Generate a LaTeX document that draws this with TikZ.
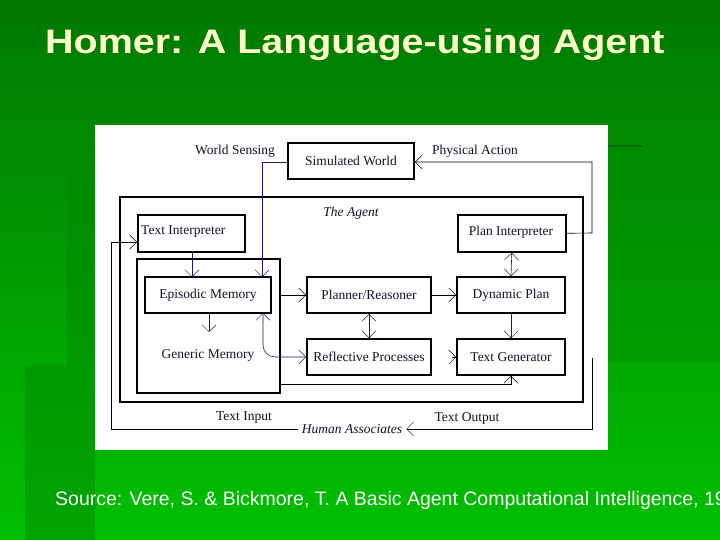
\documentclass[tikz,border=0pt]{standalone}
\usepackage{fontspec}
\setmainfont{Liberation Serif}
\newfontfamily\arialf{Liberation Sans}
\usetikzlibrary{arrows.meta}
\definecolor{navy}{HTML}{1A1A70}
\definecolor{txt}{HTML}{101030}
\definecolor{gtop}{HTML}{007800}
\definecolor{gbot}{HTML}{00C000}
\definecolor{gdark}{HTML}{008A00}
\definecolor{titlec}{HTML}{FFFFCC}
\tikzset{
 box/.style={draw=black,line width=1.6pt,fill=white,inner sep=0pt,text=txt,font=\fontsize{13.5}{15}\selectfont},
 lbl/.style={font=\fontsize{13.5}{15}\selectfont,inner sep=0pt,text=txt},
 conn/.style={draw=navy,line width=0.6pt,-{Straight Barb[length=7pt,width=14pt,line width=0.5pt]}},
 dconn/.style={draw=navy,line width=0.6pt,{Straight Barb[length=7pt,width=14pt,line width=0.5pt]}-{Straight Barb[length=7pt,width=14pt,line width=0.5pt]}},
}
\begin{document}
\begin{tikzpicture}[x=1pt,y=-1pt]
\useasboundingbox (0,0) rectangle (720,540);
\clip (0,0) rectangle (720,540);
\shade[top color=gtop,bottom color=gbot] (0,0) rectangle (720,540);
\fill[gdark,opacity=0.5] (67,144) rectangle (95,540);
\fill[gdark,opacity=0.5] (25,365) rectangle (67,540);
\fill[gdark,opacity=0.3] (608,144) rectangle (720,362);
\draw[black!60!green,line width=2pt] (608,146) -- (642,146);
\node[anchor=west,text=titlec,font=\arialf\bfseries\fontsize{34}{38}\selectfont,inner sep=0pt] (title) at (45,45) {\scalebox{1.16}[1]{Homer: A Language-using Agent}};
\node[anchor=west,text=white,font=\arialf\fontsize{19.5}{22}\selectfont,inner sep=0pt] (src) at (55,500) {Source: Vere, S. \& Bickmore, T. A Basic Agent Computational Intelligence, 1990};
\fill[white] (95,125) rectangle (608,450);
% agent box
\draw[black,line width=2.5pt] (120,197) rectangle (583,402);
\node[lbl,font=\itshape\fontsize{13.5}{15}\selectfont] (agent) at (351,213) {The Agent};
\draw[black,line width=1.6pt] (137,259) rectangle (280,393);
\coordinate (mem) at (280,295);
\node[box,minimum width=126pt,minimum height=36pt] (sw) at (351,161) {Simulated World};
\node[box,minimum width=107pt,minimum height=37pt,anchor=north west] (ti) at (137,214) {};
\node[lbl,anchor=west] (tit) at (141,232) {Text Interpreter};
\node[box,minimum width=108pt,minimum height=37pt,anchor=north west] (pi) at (457,214) {};
\node[lbl] (pit) at (511,232) {Plan Interpreter};
\node[box,minimum width=126pt,minimum height=36pt] (em) at (208,295) {Episodic Memory};
\node[lbl] (gm) at (208,355) {Generic Memory};
\node[box,minimum width=124pt,minimum height=36pt] (pr) at (369,295) {Planner/Reasoner};
\node[box,minimum width=108pt,minimum height=36pt] (dp) at (511,295) {Dynamic Plan};
\node[box,minimum width=124pt,minimum height=36pt] (rp) at (369,357) {Reflective Processes};
\node[box,minimum width=108pt,minimum height=36pt] (tg) at (511,357) {Text Generator};
\node[lbl] (ws) at (235,151) {World Sensing};
\node[lbl] (pa) at (475,151) {Physical Action};
\node[lbl] (tin) at (244,418) {Text Input};
\node[lbl] (tout) at (467,418) {Text Output};
\node[lbl,inner xsep=4pt,font=\itshape\fontsize{13.5}{15}\selectfont] (ha) at (352,429) {Human Associates};
% connectors
\draw[conn] (sw.west |- 0,162) -- (262,162) -- (262,277);
\draw[conn,draw=black] (pi.east) -- (592,233) -- (592,162) -- (sw.east |- 0,162);
\draw[conn,draw=black] (592,358) -- (592,429) -- (ha.east);
\draw[conn,draw=black] (ha.west) -- (111,429) -- (111,242) -- (ti.west |- 0,242);
\draw[conn] (192,251) -- (192,277);
\draw[conn] (209,313) -- (209,332);
\draw[conn,draw=black] (mem) -- (pr.west);
\draw[conn,draw=black] (pr.east) -- (dp.west);
\draw[dconn] (pi.south) -- (dp.north);
\draw[dconn] (pr.south) -- (rp.north);
\draw[conn] (dp.south) -- (tg.north);
\draw[dconn] (263,313) -- (263,345) to[out=-90,in=180] (275,357) -- (rp.west);
\draw[conn,draw=black] (280,384) -- (511,384) -- (tg.south);
\draw[conn,draw=black] (452,357) -- (tg.west);
\end{tikzpicture}
\end{document}
